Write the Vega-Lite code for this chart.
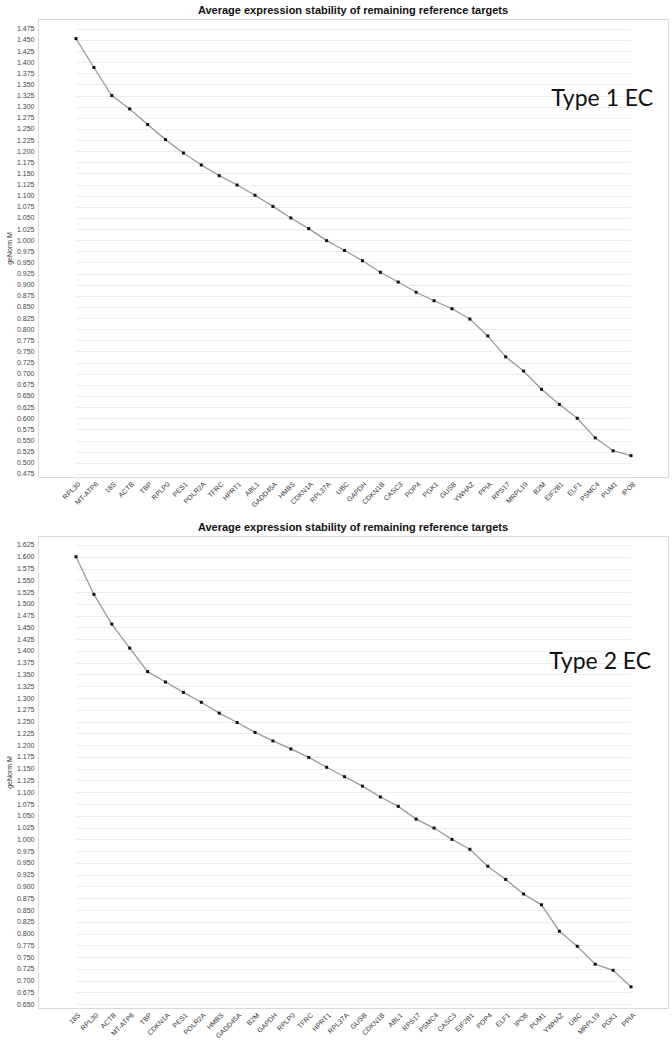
{
  "$schema": "https://vega.github.io/schema/vega-lite/v6.json",
  "padding": {"left": 4, "top": 4, "right": 5, "bottom": 0},
  "background": "white",
  "spacing": 12,
  "config": {
    "font": "Liberation Sans",
    "view": {"stroke": "#d9d9d9", "strokeWidth": 1},
    "axis": {"labelFont": "Liberation Sans", "labelFontSize": 7, "labelColor": "#444", "ticks": false, "domain": false, "gridColor": "#ececec", "gridWidth": 1, "labelOverlap": false},
    "title": {"font": "Liberation Sans", "fontSize": 11, "fontWeight": "bold", "color": "#111", "anchor": "middle", "offset": 3}
  },
  "datasets": {
    "t1": [
      {"gene": "RPL30", "M": 1.453}, {"gene": "MT-ATP6", "M": 1.388}, {"gene": "18S", "M": 1.325}, {"gene": "ACTB", "M": 1.295},
      {"gene": "TBP", "M": 1.260}, {"gene": "RPLP0", "M": 1.226}, {"gene": "PES1", "M": 1.196}, {"gene": "POLR2A", "M": 1.169},
      {"gene": "TFRC", "M": 1.145}, {"gene": "HPRT1", "M": 1.124}, {"gene": "ABL1", "M": 1.101}, {"gene": "GADD45A", "M": 1.076},
      {"gene": "HMBS", "M": 1.050}, {"gene": "CDKN1A", "M": 1.026}, {"gene": "RPL37A", "M": 0.999}, {"gene": "UBC", "M": 0.977},
      {"gene": "GAPDH", "M": 0.954}, {"gene": "CDKN1B", "M": 0.928}, {"gene": "CASC3", "M": 0.906}, {"gene": "POP4", "M": 0.883},
      {"gene": "PGK1", "M": 0.864}, {"gene": "GUSB", "M": 0.846}, {"gene": "YWHAZ", "M": 0.823}, {"gene": "PPIA", "M": 0.785},
      {"gene": "RPS17", "M": 0.738}, {"gene": "MRPL19", "M": 0.706}, {"gene": "B2M", "M": 0.665}, {"gene": "EIF2B1", "M": 0.631},
      {"gene": "ELF1", "M": 0.600}, {"gene": "PSMC4", "M": 0.556}, {"gene": "PUM1", "M": 0.527}, {"gene": "IPO8", "M": 0.516}
    ],
    "t2": [
      {"gene": "18S", "M": 1.600}, {"gene": "RPL30", "M": 1.520}, {"gene": "ACTB", "M": 1.457}, {"gene": "MT-ATP6", "M": 1.406},
      {"gene": "TBP", "M": 1.356}, {"gene": "CDKN1A", "M": 1.334}, {"gene": "PES1", "M": 1.312}, {"gene": "POLR2A", "M": 1.291},
      {"gene": "HMBS", "M": 1.268}, {"gene": "GADD45A", "M": 1.248}, {"gene": "B2M", "M": 1.227}, {"gene": "GAPDH", "M": 1.209},
      {"gene": "RPLP0", "M": 1.192}, {"gene": "TFRC", "M": 1.174}, {"gene": "HPRT1", "M": 1.153}, {"gene": "RPL37A", "M": 1.133},
      {"gene": "GUSB", "M": 1.113}, {"gene": "CDKN1B", "M": 1.090}, {"gene": "ABL1", "M": 1.070}, {"gene": "RPS17", "M": 1.043},
      {"gene": "PSMC4", "M": 1.024}, {"gene": "CASC3", "M": 1.000}, {"gene": "EIF2B1", "M": 0.979}, {"gene": "POP4", "M": 0.943},
      {"gene": "ELF1", "M": 0.915}, {"gene": "IPO8", "M": 0.884}, {"gene": "PUM1", "M": 0.861}, {"gene": "YWHAZ", "M": 0.805},
      {"gene": "UBC", "M": 0.773}, {"gene": "MRPL19", "M": 0.735}, {"gene": "PGK1", "M": 0.722}, {"gene": "PPIA", "M": 0.687}
    ],
    "lab1": [{"label": "Type 1 EC"}],
    "lab2": [{"label": "Type 2 EC"}]
  },
  "vconcat": [
    {
      "title": "Average expression stability of remaining reference targets",
      "width": 630,
      "height": 458,
      "layer": [
        {
          "data": {"name": "t1"},
          "mark": {"type": "line", "color": "#9a9a9a", "strokeWidth": 1.3},
          "encoding": {
            "x": {"field": "gene", "type": "ordinal", "sort": null, "scale": {"type": "point", "padding": 0, "range": [38, 593]},
                  "axis": {"title": null, "labelAngle": -45, "labelFontSize": 7, "labelColor": "#333", "grid": false, "labelPadding": 3}},
            "y": {"field": "M", "type": "quantitative", "scale": {"domain": [0.468, 1.497], "nice": false, "zero": false},
                  "axis": {"title": "geNorm M", "titleFontSize": 7, "titleFontWeight": "normal", "titleColor": "#333", "format": ".3f", "labelPadding": 4,
                           "values": [0.475,0.5,0.525,0.55,0.575,0.6,0.625,0.65,0.675,0.7,0.725,0.75,0.775,0.8,0.825,0.85,0.875,0.9,0.925,0.95,0.975,1.0,1.025,1.05,1.075,1.1,1.125,1.15,1.175,1.2,1.225,1.25,1.275,1.3,1.325,1.35,1.375,1.4,1.425,1.45,1.475]}}
          }
        },
        {
          "data": {"name": "t1"},
          "mark": {"type": "point", "shape": "square", "filled": true, "color": "#111", "size": 9, "opacity": 1},
          "encoding": {
            "x": {"field": "gene", "type": "ordinal", "sort": null},
            "y": {"field": "M", "type": "quantitative",
                  "axis": {"title": "geNorm M", "titleFontSize": 7, "titleFontWeight": "normal", "titleColor": "#333", "format": ".3f", "labelPadding": 4,
                           "values": [0.475,0.5,0.525,0.55,0.575,0.6,0.625,0.65,0.675,0.7,0.725,0.75,0.775,0.8,0.825,0.85,0.875,0.9,0.925,0.95,0.975,1.0,1.025,1.05,1.075,1.1,1.125,1.15,1.175,1.2,1.225,1.25,1.275,1.3,1.325,1.35,1.375,1.4,1.425,1.45,1.475]}}
          }
        },
        {
          "data": {"name": "lab1"},
          "mark": {"type": "text", "font": "Lato", "fontSize": 23, "color": "#111", "align": "center", "baseline": "middle", "dx": 7},
          "encoding": {
            "x": {"datum": "PSMC4", "type": "ordinal"},
            "y": {"datum": 1.318, "type": "quantitative",
                  "axis": {"title": "geNorm M", "titleFontSize": 7, "titleFontWeight": "normal", "titleColor": "#333", "format": ".3f", "labelPadding": 4,
                           "values": [0.475,0.5,0.525,0.55,0.575,0.6,0.625,0.65,0.675,0.7,0.725,0.75,0.775,0.8,0.825,0.85,0.875,0.9,0.925,0.95,0.975,1.0,1.025,1.05,1.075,1.1,1.125,1.15,1.175,1.2,1.225,1.25,1.275,1.3,1.325,1.35,1.375,1.4,1.425,1.45,1.475]}},
            "text": {"field": "label", "type": "nominal"}
          }
        }
      ]
    },
    {
      "title": "Average expression stability of remaining reference targets",
      "width": 630,
      "height": 472,
      "layer": [
        {
          "data": {"name": "t2"},
          "mark": {"type": "line", "color": "#9a9a9a", "strokeWidth": 1.3},
          "encoding": {
            "x": {"field": "gene", "type": "ordinal", "sort": null, "scale": {"type": "point", "padding": 0, "range": [38, 593]},
                  "axis": {"title": null, "labelAngle": -45, "labelFontSize": 7, "labelColor": "#333", "grid": false, "labelPadding": 3}},
            "y": {"field": "M", "type": "quantitative", "scale": {"domain": [0.642, 1.644], "nice": false, "zero": false},
                  "axis": {"title": "geNorm M", "titleFontSize": 7, "titleFontWeight": "normal", "titleColor": "#333", "format": ".3f", "labelPadding": 4,
                           "values": [0.65,0.675,0.7,0.725,0.75,0.775,0.8,0.825,0.85,0.875,0.9,0.925,0.95,0.975,1.0,1.025,1.05,1.075,1.1,1.125,1.15,1.175,1.2,1.225,1.25,1.275,1.3,1.325,1.35,1.375,1.4,1.425,1.45,1.475,1.5,1.525,1.55,1.575,1.6,1.625]}}
          }
        },
        {
          "data": {"name": "t2"},
          "mark": {"type": "point", "shape": "square", "filled": true, "color": "#111", "size": 9, "opacity": 1},
          "encoding": {
            "x": {"field": "gene", "type": "ordinal", "sort": null},
            "y": {"field": "M", "type": "quantitative",
                  "axis": {"title": "geNorm M", "titleFontSize": 7, "titleFontWeight": "normal", "titleColor": "#333", "format": ".3f", "labelPadding": 4,
                           "values": [0.65,0.675,0.7,0.725,0.75,0.775,0.8,0.825,0.85,0.875,0.9,0.925,0.95,0.975,1.0,1.025,1.05,1.075,1.1,1.125,1.15,1.175,1.2,1.225,1.25,1.275,1.3,1.325,1.35,1.375,1.4,1.425,1.45,1.475,1.5,1.525,1.55,1.575,1.6,1.625]}}
          }
        },
        {
          "data": {"name": "lab2"},
          "mark": {"type": "text", "font": "Lato", "fontSize": 23, "color": "#111", "align": "center", "baseline": "middle", "dx": 5},
          "encoding": {
            "x": {"datum": "MRPL19", "type": "ordinal"},
            "y": {"datum": 1.376, "type": "quantitative",
                  "axis": {"title": "geNorm M", "titleFontSize": 7, "titleFontWeight": "normal", "titleColor": "#333", "format": ".3f", "labelPadding": 4,
                           "values": [0.65,0.675,0.7,0.725,0.75,0.775,0.8,0.825,0.85,0.875,0.9,0.925,0.95,0.975,1.0,1.025,1.05,1.075,1.1,1.125,1.15,1.175,1.2,1.225,1.25,1.275,1.3,1.325,1.35,1.375,1.4,1.425,1.45,1.475,1.5,1.525,1.55,1.575,1.6,1.625]}},
            "text": {"field": "label", "type": "nominal"}
          }
        }
      ]
    }
  ]
}
